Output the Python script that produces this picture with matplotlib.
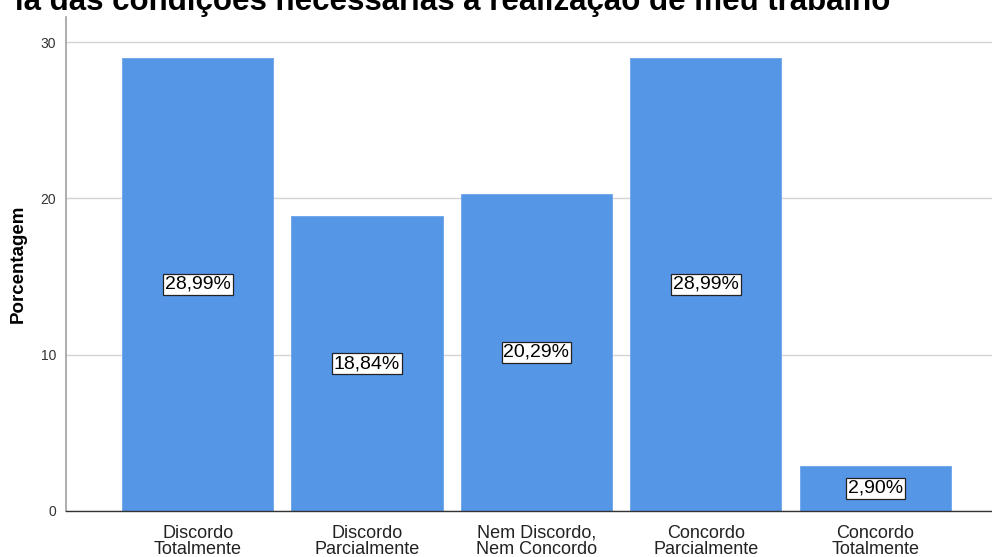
import matplotlib.pyplot as plt

plt.rcParams['font.family'] = ['Liberation Sans', 'DejaVu Sans']

categorias = ["Discordo\nTotalmente", "Discordo\nParcialmente", "Nem Discordo,\nNem Concordo",
              "Concordo\nParcialmente", "Concordo\nTotalmente"]
porcentagens = [28.99, 18.84, 20.29, 28.99, 2.90]
rotulos = ["28,99%", "18,84%", "20,29%", "28,99%", "2,90%"]
ticks_y = [0, 10, 20, 30]
titulo = "ia das condições necessárias à realização de meu trabalho"


def main():
    fig = plt.figure(figsize=(9.92, 5.57), dpi=100)
    ax = fig.add_axes([66 / 992, 46 / 557, 926 / 992, 494 / 557])

    x = range(len(categorias))
    ax.bar(x, porcentagens, width=0.893, color="#5596e6", edgecolor="#6aa3ea",
           linewidth=0.6, zorder=2)

    for xi, v, r in zip(x, porcentagens, rotulos):
        ax.text(xi, v / 2, r, ha="center", va="center", fontsize=14, color="black",
                zorder=3,
                bbox=dict(boxstyle="square,pad=0.1", facecolor="white",
                          edgecolor="#222222", linewidth=0.9))

    ax.set_xlim(-0.778, 4.69)
    ax.set_ylim(0, 31.6)
    ax.set_yticks(ticks_y)
    ax.set_yticklabels([str(t) for t in ticks_y], fontsize=10, color="#333333")
    ax.set_xticks(list(x))
    ax.set_xticklabels(categorias, fontsize=13, color="#222222", linespacing=0.92)
    ax.tick_params(axis="both", length=0, pad=7)
    ax.tick_params(axis="x", pad=10)

    ax.yaxis.grid(True, color="#d4d4d4", linewidth=1.0, zorder=0)
    ax.set_axisbelow(True)
    for s in ["top", "right"]:
        ax.spines[s].set_visible(False)
    ax.spines["left"].set_color("#a0a0a0")
    ax.spines["left"].set_linewidth(1.2)
    ax.spines["bottom"].set_color("#333333")
    ax.spines["bottom"].set_linewidth(1.0)

    ax.set_ylabel("Porcentagem", fontsize=13.5, fontweight="bold", labelpad=10)

    # title sits partly above the top edge of the canvas
    fig.text(890 / 992, 1 - 10 / 557, titulo, ha="right", va="baseline",
             fontsize=22.5, fontweight="bold")

    fig.savefig("out.png", dpi=100)


if __name__ == "__main__":
    main()
